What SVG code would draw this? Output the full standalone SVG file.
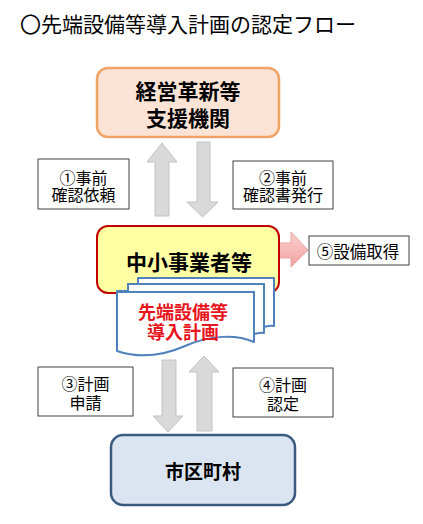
<svg xmlns="http://www.w3.org/2000/svg" width="423" height="524" viewBox="0 0 423 524">
<defs>
<linearGradient id="pink" x1="0" y1="0" x2="0" y2="1">
<stop offset="0" stop-color="#fbd0d0"/>
<stop offset="1" stop-color="#f2a2a2"/>
</linearGradient>
<style>
text{font-family:"Noto Sans CJK JP","Noto Sans",sans-serif;text-anchor:middle;fill:#000}
text,tspan{dominant-baseline:central}
.b{font-weight:bold}
.lbl{fill:#fff;stroke:#404040;stroke-width:1}
.ga{fill:#d9d9d9;stroke:#c3c3c3;stroke-width:1}
.lt{font-size:16px}
</style>
</defs>
<rect width="423" height="524" fill="#fff"/>
<text x="20" y="22.5" style="text-anchor:start;font-size:21px">〇先端設備等導入計画の認定フロー</text>

<g id="connectors">
<path class="ga" d="M162,143 L177,162 L169,162 L169,216 L155,216 L155,162 L147,162 Z"/>
<path class="ga" d="M197,142 L210,142 L210,202 L218,202 L202.5,217 L187,202 L197,202 Z"/>
<path class="ga" d="M162,360 L176,360 L176,416 L183,416 L168,432 L153,416 L162,416 Z"/>
<path class="ga" d="M204,356 L219,372 L212,372 L212,431 L197,431 L197,372 L189,372 Z"/>
<path d="M263,243 L291,243 L291,232 L308,250 L291,267 L291,258 L263,258 Z" fill="url(#pink)" stroke="#e9a5a5" stroke-width="1"/>
</g>

<g id="node-kakushin">
<rect x="97" y="68" width="182" height="69" rx="11" fill="#fbe4d5" stroke="#f0a366" stroke-width="2.5"/>
<text class="b" style="font-size:21px"><tspan x="188" y="90">経営革新等</tspan><tspan x="188" y="117">支援機関</tspan></text>
</g>

<g id="label-1">
<rect class="lbl" x="38" y="159" width="91" height="50"/>
<text class="lt"><tspan x="83.5" y="176.5">①事前</tspan><tspan x="83.5" y="194">確認依頼</tspan></text>
</g>

<g id="label-2">
<rect class="lbl" x="233" y="161" width="100" height="48"/>
<text class="lt"><tspan x="283" y="176.5">②事前</tspan><tspan x="283" y="194">確認書発行</tspan></text>
</g>

<g id="node-chusho">
<rect x="97" y="226" width="182" height="67" rx="11" fill="#ffffa3" stroke="#c00000" stroke-width="2"/>
<text class="b" x="189" y="261" style="font-size:21px">中小事業者等</text>
</g>

<g id="label-5">
<rect class="lbl" x="309" y="236" width="100" height="29"/>
<text x="358" y="251" style="font-size:16.5px">⑤設備取得</text>
</g>

<g id="node-plan">
<path d="M138,278 H274 V326 C270,325 268,326 264,327 V284 H128 V291 H138 Z" fill="#fff" stroke="#4f81bd" stroke-width="2" stroke-linejoin="round"/>
<path d="M128,284 H264 V333 C261,332 258,333 254,334 V292 H117 V291 H128 Z" fill="#fff" stroke="#4f81bd" stroke-width="2" stroke-linejoin="round"/>
<path d="M117,292 H254 V342 C236,334 210,335 185,346 C160,357 138,358 117,351 Z" fill="#fff" stroke="#4f81bd" stroke-width="2" stroke-linejoin="round"/>
<text class="b" style="font-size:18px;fill:#e8141c"><tspan x="183" y="310.5">先端設備等</tspan><tspan x="183" y="330.5">導入計画</tspan></text>
</g>

<g id="label-3">
<rect class="lbl" x="38" y="367" width="95" height="49"/>
<text class="lt"><tspan x="85.5" y="383">③計画</tspan><tspan x="85.5" y="402">申請</tspan></text>
</g>

<g id="label-4">
<rect class="lbl" x="233" y="368" width="100" height="49"/>
<text class="lt"><tspan x="283" y="384">④計画</tspan><tspan x="283" y="403">認定</tspan></text>
</g>

<g id="node-city">
<rect x="111" y="435" width="184" height="70" rx="12" fill="#dbe5f1" stroke="#3a5a80" stroke-width="2.5"/>
<text class="b" x="203" y="470" style="font-size:19px">市区町村</text>
</g>
</svg>
